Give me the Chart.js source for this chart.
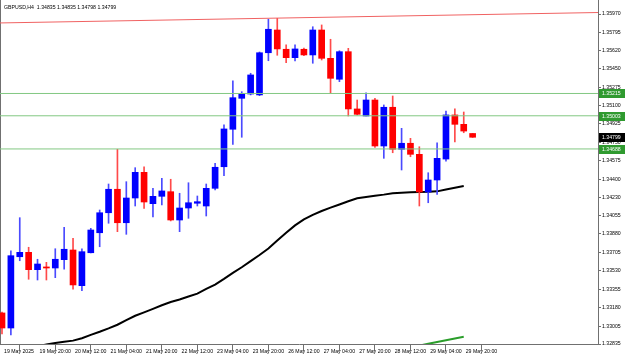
<!DOCTYPE html>
<html><head><meta charset="utf-8">
<script src="https://cdn.jsdelivr.net/npm/chart.js@4.4.1/dist/chart.umd.min.js"></script>
<style>html,body{margin:0;padding:0;background:#fff;overflow:hidden}#wrap{width:625px;height:358px;position:relative}</style>
</head><body><div id="wrap"><canvas id="c"></canvas></div>
<script>
const symbolTitle = 'GBPUSD,H4  1.34835 1.34835 1.34798 1.34799';

const opens  = [1.33130,1.32987,1.33664,1.33706,1.33541,1.33567,1.33557,1.33636,1.33728,1.33389,
                1.33702,1.33892,1.34082,1.34305,1.33987,1.34222,1.34466,1.34168,1.34238,1.34282,
                1.34013,1.34127,1.34172,1.34146,1.34314,1.34519,1.34875,1.35169,1.35210,1.35201,
                1.35602,1.35818,1.35635,1.35555,1.35635,1.35581,1.35818,1.35549,1.35350,1.35612,
                1.35068,1.35001,1.35153,1.34716,1.35084,1.34685,1.34742,1.34637,1.34279,1.34393,
                1.34592,1.35011,1.34922,1.34835];
const highs  = [1.33139,1.33721,1.34035,1.33754,1.33640,1.33611,1.33740,1.33944,1.33839,1.33738,
                1.33934,1.34108,1.34355,1.34685,1.34377,1.34510,1.34519,1.34314,1.34409,1.34400,
                1.34267,1.34367,1.34241,1.34355,1.34552,1.34916,1.35334,1.35232,1.35407,1.35609,
                1.35920,1.35929,1.35676,1.35676,1.35647,1.35849,1.35866,1.35730,1.35621,1.35644,
                1.35153,1.35222,1.35169,1.35106,1.35191,1.34884,1.34789,1.34709,1.34462,1.34747,
                1.35048,1.35070,1.35039,1.34835];
const lows   = [1.32930,1.32921,1.33626,1.33450,1.33443,1.33443,1.33465,1.33545,1.33355,1.33341,
                1.33700,1.33759,1.33982,1.33902,1.33877,1.34146,1.34124,1.34042,1.34156,1.34004,
                1.33902,1.34029,1.34146,1.34051,1.34298,1.34434,1.34732,1.34799,1.35201,1.35194,
                1.35526,1.35578,1.35507,1.35524,1.35574,1.35502,1.35533,1.35217,1.35327,1.35001,
                1.35011,1.35001,1.34702,1.34599,1.34652,1.34488,1.34614,1.34146,1.34177,1.34257,
                1.34573,1.34754,1.34842,1.34798];
const closes = [1.32987,1.33674,1.33706,1.33541,1.33595,1.33557,1.33640,1.33735,1.33396,1.33712,
                1.33918,1.34082,1.34305,1.33987,1.34222,1.34466,1.34184,1.34238,1.34289,1.34013,
                1.34127,1.34177,1.34187,1.34314,1.34514,1.34878,1.35175,1.35207,1.35391,1.35602,
                1.35825,1.35638,1.35555,1.35638,1.35581,1.35818,1.35549,1.35359,1.35612,1.35068,
                1.35017,1.35153,1.34716,1.35084,1.34685,1.34742,1.34637,1.34279,1.34393,1.34599,
                1.35011,1.34922,1.34858,1.34799];

const maBlack = [null,null,null,null,1.32811,1.32831,1.32845,1.32856,1.32867,1.32890,
                 1.32922,1.32951,1.32983,1.33018,1.33061,1.33103,1.33135,1.33169,1.33203,1.33234,
                 1.33258,1.33286,1.33313,1.33358,1.33400,1.33453,1.33510,1.33564,1.33622,1.33680,
                 1.33742,1.33818,1.33891,1.33962,1.34019,1.34062,1.34098,1.34130,1.34160,1.34191,
                 1.34219,1.34232,1.34243,1.34254,1.34267,1.34271,1.34276,1.34279,1.34281,1.34285,
                 1.34303,1.34319,1.34336,null];
const maGreen = [null,null,null,null,null,null,null,null,null,null,
                 null,null,null,null,null,null,null,null,null,null,
                 null,null,null,null,null,null,null,null,null,null,
                 null,null,null,null,null,null,null,null,null,null,
                 null,null,null,null,null,null,null,1.32820,1.32837,1.32854,
                 1.32870,1.32887,1.32904,null];

const levels = [1.35215, 1.35003, 1.34688];
const bidPrice = 1.34799;
const trendline = [1.35885, 1.35984];

const yTicks = [1.35970,1.35795,1.35620,1.35450,1.35275,1.35100,1.34925,1.34750,1.34575,1.34400,
                1.34230,1.34055,1.33880,1.33705,1.33530,1.33355,1.33180,1.33005,1.32835];
const xTickIndex  = [0,4,8,12,16,20,24,28,32,36,40,44,48,52];
const xTickLabels = ['19 May 2025','19 May 20:00','20 May 12:00','21 May 04:00','21 May 20:00',
                     '22 May 12:00','23 May 04:00','23 May 20:00','26 May 12:00','27 May 04:00',
                     '27 May 20:00','28 May 12:00','29 May 04:00','29 May 20:00'];

const X_MIN = -0.225, X_MAX = 67.12;
const Y_MIN = 1.32835, Y_MAX = 1.36103;
const FONT = "'Liberation Sans', Arial, sans-serif";
const FS = 5.2;
const AXIS = '#707070';

const up = closes.map((c,i) => c >= opens[i]);
const bodyData = opens.map((o,i) => ({x:i, y:[o, closes[i]]}));
const wickData = lows.map((l,i) => ({x:i, y:[l, highs[i]]}));
const toLine = arr => arr.map((v,i) => v === null ? null : {x:i, y:v}).filter(p => p);

const decor = {
  id: 'decor',
  beforeDatasetsDraw(chart) {
    const {ctx, chartArea:a} = chart;
    ctx.save();
    ctx.strokeStyle = AXIS; ctx.lineWidth = 1;
    ctx.beginPath(); ctx.moveTo(a.left + 0.5, a.top); ctx.lineTo(a.left + 0.5, a.bottom); ctx.stroke();
    ctx.restore();
  },
  afterDraw(chart) {
    const {ctx, chartArea:a} = chart;
    const ys = chart.scales.y;
    ctx.save();
    ctx.font = FS + 'px ' + FONT;
    ctx.textBaseline = 'middle'; ctx.textAlign = 'left';
    ctx.fillStyle = '#000';
    ctx.fillText(symbolTitle, a.left + 4, a.top + 8);
    const box = (v, color) => {
      const py = Math.round(ys.getPixelForValue(v));
      ctx.fillStyle = color;
      ctx.fillRect(a.right + 1, py - 4, 26, 9);
      ctx.fillStyle = '#fff';
      ctx.fillText(v.toFixed(5), a.right + 4, py + 0.5);
    };
    levels.forEach(v => box(v, '#2f9a2f'));
    box(bidPrice, '#000');
    ctx.restore();
  }
};

new Chart(document.getElementById('c'), {
  type: 'bar',
  data: {
    datasets: [
      ...levels.map(v => ({type:'line', data:[{x:X_MIN,y:v},{x:X_MAX,y:v}], borderColor:'#82c882', borderWidth:1, pointRadius:0, order:1})),
      {type:'line', data:[{x:X_MIN,y:trendline[0]},{x:X_MAX,y:trendline[1]}], borderColor:'#f06262', borderWidth:1, pointRadius:0, order:1},
      {type:'bar', data: bodyData, backgroundColor: up.map(u => u ? '#0000ff' : '#ff0000'), borderWidth:0, barThickness:6, grouped:false, order:2},
      {type:'bar', data: wickData, backgroundColor: up.map(u => u ? '#4a4aff' : '#ff4a4a'), borderWidth:0, barThickness:1, grouped:false, order:3},
      {type:'line', data: toLine(maBlack), borderColor:'#000', borderWidth:2, pointRadius:0, order:4},
      {type:'line', data: toLine(maGreen), borderColor:'#2b9e2b', borderWidth:2, pointRadius:0, order:4}
    ]
  },
  options: {
    responsive: true, maintainAspectRatio: false, animation: false,
    layout: {padding: 0},
    plugins: {legend:{display:false}, tooltip:{enabled:false}, title:{display:false}},
    scales: {
      x: {
        type:'linear', min:X_MIN, max:X_MAX, offset:false,
        grid:{drawOnChartArea:false, drawTicks:true, tickLength:7, color:AXIS},
        border:{display:true, color:AXIS},
        ticks:{autoSkip:false, maxRotation:0, minRotation:0, align:'start', labelOffset:2, padding:-3,
               font:{size:FS, family:FONT}, color:'#000',
               callback:(v) => { const k = xTickIndex.indexOf(v); return k >= 0 ? xTickLabels[k] : ''; }},
        afterBuildTicks: s => { s.ticks = xTickIndex.map(v => ({value:v})); },
        afterFit: s => { s.height = 14; s.paddingLeft = 0; s.paddingRight = 0; s.paddingTop = 0; s.paddingBottom = 0; }
      },
      y: {
        type:'linear', position:'right', min:Y_MIN, max:Y_MAX, beginAtZero:false,
        grid:{drawOnChartArea:false, drawTicks:true, tickLength:3, color:AXIS},
        border:{display:true, color:AXIS},
        ticks:{autoSkip:false, padding:1, font:{size:FS, family:FONT}, color:'#000',
               callback:(v) => Number(v).toFixed(5)},
        afterBuildTicks: s => { s.ticks = yTicks.map(v => ({value:v})); },
        afterFit: s => { s.width = 27; s.paddingTop = 0; s.paddingBottom = 0; s.paddingLeft = 0; s.paddingRight = 0; }
      }
    }
  },
  plugins: [decor]
});
</script>
</body></html>
